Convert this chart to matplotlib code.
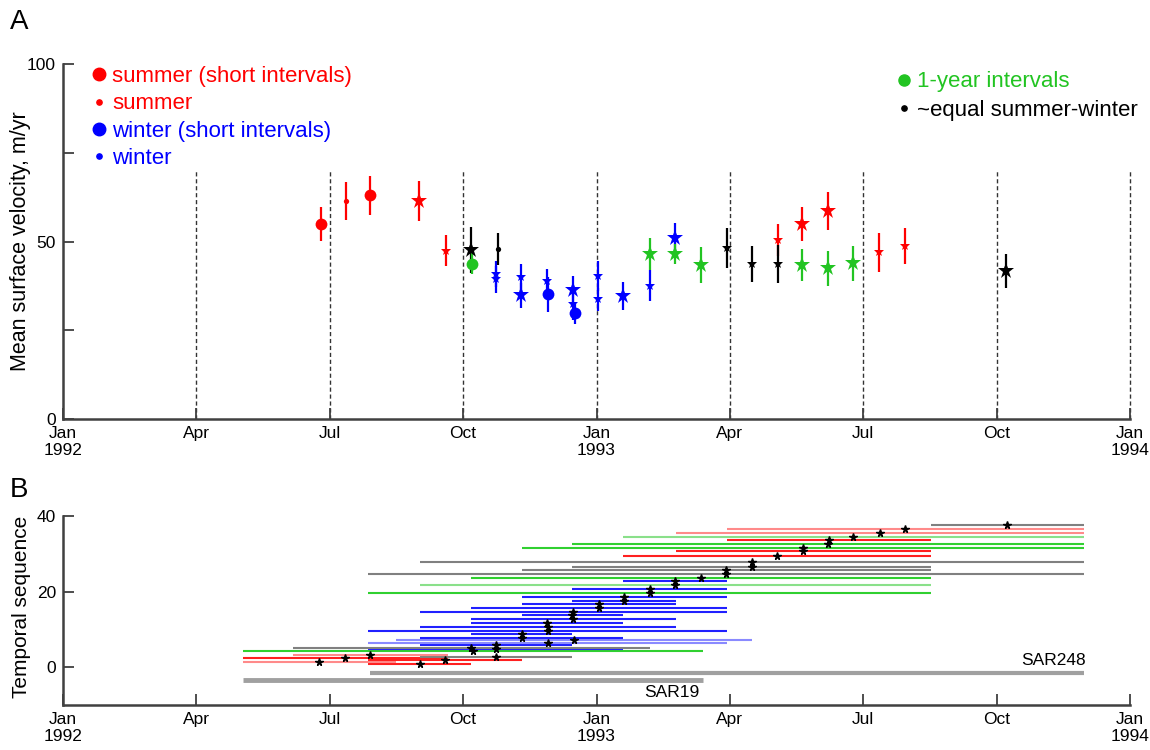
import matplotlib
matplotlib.use("Agg")
import matplotlib.pyplot as plt
from matplotlib.lines import Line2D

plt.rcParams['font.family'] = ['Liberation Sans', 'DejaVu Sans']

# ---------------- axis labels / ticks ----------------
month_ticks = [0, 3, 6, 9, 12, 15, 18, 21, 24]     # months since 1 Jan 1992
month_labels = ['Jan\n1992', 'Apr', 'Jul', 'Oct', 'Jan\n1993', 'Apr', 'Jul', 'Oct', 'Jan\n1994']

# ---------------- Panel A data (month, velocity m/yr, error) ----------------
red_circle_t = [5.80, 6.91];            red_circle_v = [54.9, 63.0];  red_circle_e = [4.7, 5.5]
red_dot_t = [6.36];                      red_dot_v = [61.4];           red_dot_e = [5.4]
red_bigstar_t = [8.01, 16.62, 17.20];    red_bigstar_v = [61.5, 54.9, 58.6]; red_bigstar_e = [5.6, 4.7, 5.3]
red_smstar_t = [8.61, 16.08, 18.35, 18.94]
red_smstar_v = [47.4, 50.4, 47.0, 48.7]; red_smstar_e = [4.3, 4.6, 5.5, 5.0]

blue_circle_t = [10.92, 11.52];          blue_circle_v = [35.1, 29.8]; blue_circle_e = [5.0, 3.0]
blue_bigstar_t = [10.30, 11.48, 12.60, 13.77]
blue_bigstar_v = [34.8, 36.3, 34.7, 50.9]; blue_bigstar_e = [3.5, 4.0, 3.9, 4.3]
blue_smstar_t = [9.75, 9.75, 10.30, 10.89, 11.48, 12.04, 12.04, 13.20]
blue_smstar_v = [40.9, 39.3, 39.9, 38.9, 32.3, 40.3, 33.7, 37.6]
blue_smstar_e = [3.6, 3.7, 3.8, 3.3, 4.5, 4.2, 3.3, 4.3]

green_circle_t = [9.21];                 green_circle_v = [43.8];      green_circle_e = [3.0]
green_bigstar_t = [13.20, 13.77, 14.34, 16.62, 17.20, 17.77]
green_bigstar_v = [46.5, 46.4, 43.4, 43.4, 42.5, 43.9]
green_bigstar_e = [4.6, 2.8, 5.0, 4.6, 4.9, 4.9]

black_bigstar_t = [9.18, 21.20];         black_bigstar_v = [47.6, 41.7]; black_bigstar_e = [6.4, 4.7]
black_dot_t = [9.78];                    black_dot_v = [47.9];         black_dot_e = [4.6]
black_smstar_t = [14.93, 15.50, 16.08];  black_smstar_v = [48.1, 43.7, 43.7]; black_smstar_e = [5.6, 5.0, 5.3]

# ---------------- Panel B data: image-pair intervals ----------------
seq_index = [0.8, 1.3, 1.8, 2.4, 2.7, 3.3, 4.3, 4.7, 5.2, 5.8, 6.5, 7.1, 7.6, 8.7, 9.7, 10.7,
             11.7, 12.7, 13.7, 14.7, 15.7, 16.6, 17.6, 18.7, 19.7, 20.6, 21.7, 22.7, 23.6, 24.7,
             25.6, 26.5, 27.7, 29.5, 30.7, 31.5, 32.5, 33.6, 34.5, 35.5, 36.5, 37.5]
seq_start = [6.87, 4.04, 6.87, 4.04, 8.03, 5.17, 4.04, 6.87, 5.17, 8.03, 6.87, 7.49, 8.03, 9.17, 6.87, 8.03,
             9.17, 9.17, 10.32, 8.03, 9.17, 10.32, 11.46, 10.32, 6.87, 11.46, 8.03, 12.60, 9.17, 6.87,
             10.32, 11.46, 8.03, 12.60, 13.78, 10.32, 11.46, 14.93, 12.60, 13.78, 14.93, 19.52]
seq_end = [9.17, 7.49, 10.32, 8.65, 11.46, 8.65, 14.40, 12.60, 13.20, 11.46, 14.93, 15.50, 12.60, 11.46, 14.93, 13.78,
           12.60, 13.78, 12.60, 14.93, 14.93, 13.78, 13.78, 14.93, 19.52, 14.93, 19.52, 14.93, 19.52, 22.96,
           19.52, 19.52, 22.96, 19.52, 19.52, 22.96, 22.96, 19.52, 22.96, 22.96, 22.96, 22.96]
seq_kind = ['r', 'lr', 'r', 'r', 'k', 'lr', 'g', 'b', 'k', 'b', 'lb', 'lb', 'b', 'b', 'b', 'b',
            'b', 'b', 'b', 'b', 'b', 'b', 'b', 'b', 'g', 'b', 'lg', 'b', 'g', 'k',
            'k', 'k', 'k', 'r', 'r', 'g', 'g', 'r', 'lg', 'lr', 'lr', 'k']

sar_names = ['SAR19', 'SAR248']
sar_start = [4.04, 6.90]
sar_end = [14.40, 22.96]
sar_level = [-3.5, -1.5]

# ---------------- styles ----------------
RED, BLUE, GREEN, BLACK = '#ff0000', '#0000ff', '#22c422', '#000000'
kind_color = {'r': '#ff2020', 'lr': '#ff8a8a', 'b': '#2020ff', 'lb': '#8a8aff',
              'g': '#30d030', 'lg': '#8ae08a', 'k': '#808080'}
AX_COLOR = '#404040'
TICK_FS = 12.5

fig = plt.figure(figsize=(11.5, 7.5), dpi=100)
axA = fig.add_axes([63 / 1150, 1 - 419 / 750, 1067 / 1150, 355 / 750])
axB = fig.add_axes([63 / 1150, 1 - 705 / 750, 1067 / 1150, 189 / 750])

def style_axes(ax):
    for s in ('top', 'right'):
        ax.spines[s].set_visible(False)
    for s in ('left', 'bottom'):
        ax.spines[s].set_color(AX_COLOR)
        ax.spines[s].set_linewidth(1.8)
    ax.set_xlim(0, 24)
    ax.set_xticks(month_ticks)
    ax.set_xticklabels(month_labels, fontsize=TICK_FS)
    ax.tick_params(axis='both', which='both', direction='in', length=8, width=1.3,
                   color=AX_COLOR, labelsize=TICK_FS, pad=5)

def errpts(ax, t, v, e, color, marker, ms):
    ax.errorbar(t, v, yerr=e, fmt=marker, color=color, ms=ms, elinewidth=1.6,
                capsize=0, mew=0, zorder=3)

# ---------------- Panel A ----------------
style_axes(axA)
axA.set_ylim(0, 100)
axA.set_yticks([0, 50, 100])
axA.set_yticks([25, 75], minor=True)
axA.set_ylabel('Mean surface velocity, m/yr', fontsize=15.5)
axA.yaxis.set_label_coords(-0.030, 0.5)
for m in month_ticks[1:]:
    axA.plot([m, m], [0, 70], color='#333333', lw=1.0, ls=(0, (3, 2)), zorder=1, clip_on=False)

errpts(axA, red_circle_t, red_circle_v, red_circle_e, RED, 'o', 8.5)
errpts(axA, red_dot_t, red_dot_v, red_dot_e, RED, 'o', 3.8)
errpts(axA, red_bigstar_t, red_bigstar_v, red_bigstar_e, RED, '*', 12)
errpts(axA, red_smstar_t, red_smstar_v, red_smstar_e, RED, '*', 7)
errpts(axA, blue_circle_t, blue_circle_v, blue_circle_e, BLUE, 'o', 8.5)
errpts(axA, blue_bigstar_t, blue_bigstar_v, blue_bigstar_e, BLUE, '*', 12)
errpts(axA, blue_smstar_t, blue_smstar_v, blue_smstar_e, BLUE, '*', 7)
errpts(axA, green_bigstar_t, green_bigstar_v, green_bigstar_e, GREEN, '*', 12)
errpts(axA, black_bigstar_t, black_bigstar_v, black_bigstar_e, BLACK, '*', 12)
errpts(axA, black_dot_t, black_dot_v, black_dot_e, BLACK, 'o', 3.8)
errpts(axA, black_smstar_t, black_smstar_v, black_smstar_e, BLACK, '*', 7)
errpts(axA, green_circle_t, green_circle_v, green_circle_e, GREEN, 'o', 8.5)

leg_fs = 16
h1 = [Line2D([], [], ls='none', marker='o', ms=9, color=RED),
      Line2D([], [], ls='none', marker='o', ms=3.8, color=RED),
      Line2D([], [], ls='none', marker='o', ms=9, color=BLUE),
      Line2D([], [], ls='none', marker='o', ms=3.8, color=BLUE)]
l1 = ['summer (short intervals)', 'summer', 'winter (short intervals)', 'winter']
leg1 = axA.legend(h1, l1, loc='upper left', bbox_to_anchor=(0.0275, 0.994), frameon=False,
                  fontsize=leg_fs, handlelength=0.6, handletextpad=0.3, labelspacing=0.28,
                  borderpad=0, borderaxespad=0, labelcolor=[RED, RED, BLUE, BLUE])
axA.add_artist(leg1)
h2 = [Line2D([], [], ls='none', marker='o', ms=8, color=GREEN),
      Line2D([], [], ls='none', marker='o', ms=3.8, color=BLACK)]
l2 = ['1-year intervals', '~equal summer-winter']
axA.legend(h2, l2, loc='upper left', bbox_to_anchor=(0.782, 0.979), frameon=False,
           fontsize=leg_fs, handlelength=0.6, handletextpad=0.3, labelspacing=0.34,
           borderpad=0, borderaxespad=0, labelcolor=[GREEN, BLACK])

# ---------------- Panel B ----------------
style_axes(axB)
axB.set_ylim(-10, 40)
axB.set_yticks([0, 20, 40])
axB.set_ylabel('Temporal sequence', fontsize=15)
axB.yaxis.set_label_coords(-0.030, 0.52)
for y, s, e, k in zip(seq_index, seq_start, seq_end, seq_kind):
    axB.plot([s, e], [y, y], color=kind_color[k], lw=1.5, solid_capstyle='butt', zorder=2)
mids = [(s + e) / 2 for s, e in zip(seq_start, seq_end)]
axB.plot(mids, seq_index, ls='none', marker='*', ms=5.5, color='black', zorder=3)
for name, s, e, y in zip(sar_names, sar_start, sar_end, sar_level):
    axB.plot([s, e], [y, y], color='#a0a0a0', lw=3.5 if name == 'SAR19' else 3.0,
             solid_capstyle='butt', zorder=2)
axB.text(sar_end[1] + 0.05, sar_level[1] + 1.3, sar_names[1], ha='right', va='bottom',
         fontsize=12.5)
axB.text((sar_end[0] - 0.7), sar_level[0] - 1.2, sar_names[0], ha='center', va='top',
         fontsize=12.5)

fig.text(10 / 1150, 1 - 22 / 750, 'A', fontsize=20, va='center', ha='left')
fig.text(10 / 1150, 1 - 490 / 750, 'B', fontsize=20, va='center', ha='left')

fig.savefig('out.png', dpi=100)
